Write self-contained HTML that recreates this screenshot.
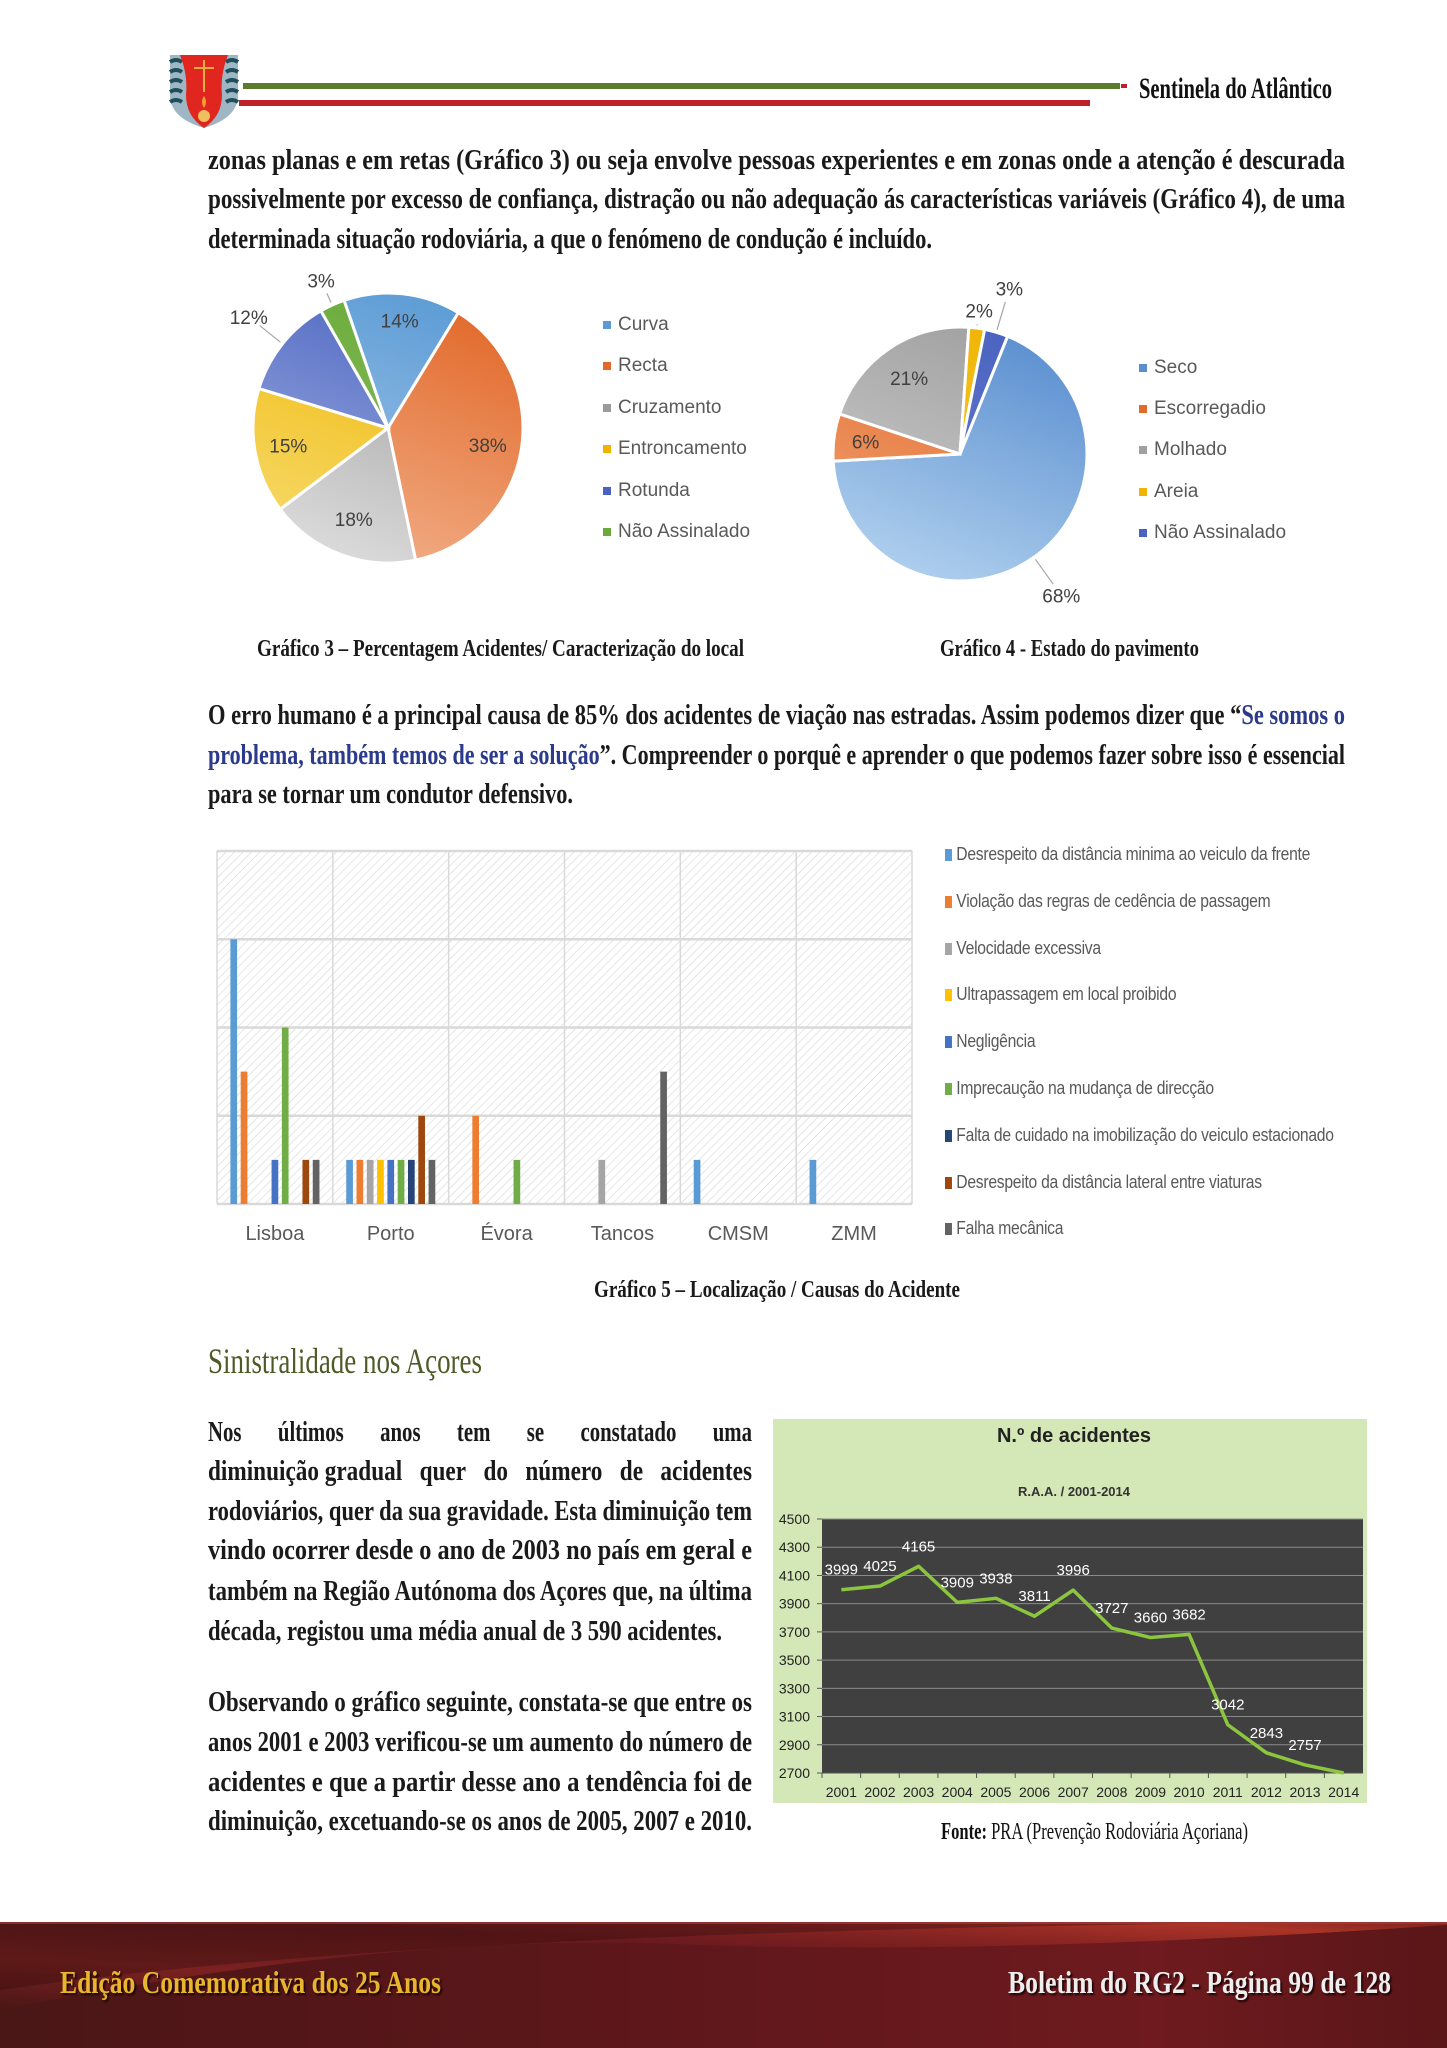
<!DOCTYPE html>
<html lang="pt">
<head>
<meta charset="utf-8">
<style>
html,body{margin:0;padding:0;background:#fff;}
#page{position:relative;width:1447px;height:2048px;overflow:hidden;background:#fff;}
.t{position:absolute;white-space:nowrap;transform-origin:0 0;display:inline-block;}
.body{font-family:"Liberation Serif",serif;font-weight:bold;font-size:28px;line-height:34px;color:#1a1a1a;}
.cap{font-family:"Liberation Serif",serif;font-weight:bold;font-size:24px;line-height:28px;color:#1a1a1a;}
.leg{position:absolute;font-family:"Liberation Sans",sans-serif;font-size:19px;color:#595959;white-space:nowrap;line-height:22px;}
.leg i{display:inline-block;width:8px;height:8px;margin-right:7px;vertical-align:1px;}
.bleg{position:absolute;font-family:"Liberation Sans",sans-serif;font-size:18px;color:#595959;white-space:nowrap;line-height:22px;transform-origin:0 0;transform:scaleX(0.87);letter-spacing:-0.3px;}
.bleg i{display:inline-block;width:8px;height:12px;margin-right:5px;vertical-align:-1px;}
svg{position:absolute;left:0;top:0;}
</style>
</head>
<body>
<div id="page">
<svg id="art" width="1447" height="2048" viewBox="0 0 1447 2048">
  <defs>
    <pattern id="hatch" width="6" height="6" patternUnits="userSpaceOnUse" patternTransform="rotate(45)">
      <rect width="6" height="6" fill="#ffffff"/>
      <line x1="0" y1="0" x2="0" y2="6" stroke="#d6d6d6" stroke-width="1.2"/>
    </pattern>
    <linearGradient id="foot" x1="0" y1="0" x2="1" y2="0">
      <stop offset="0" stop-color="#4a1616"/>
      <stop offset="0.45" stop-color="#5e171b"/>
      <stop offset="0.8" stop-color="#6e1a1e"/>
      <stop offset="1" stop-color="#5a1618"/>
    </linearGradient>
    <linearGradient id="streak" x1="0" y1="1" x2="1" y2="0">
      <stop offset="0" stop-color="#b0302a" stop-opacity="0"/>
      <stop offset="0.3" stop-color="#b0302a" stop-opacity="0.55"/>
      <stop offset="0.6" stop-color="#a02828" stop-opacity="0.2"/>
      <stop offset="0.9" stop-color="#e04a30" stop-opacity="0.7"/>
      <stop offset="1" stop-color="#e04a30" stop-opacity="0.3"/>
    </linearGradient>
  </defs>
  <g>
    <path d="M170 55 L238 55 L238 95 Q238 118 204 128 Q170 118 170 95 Z" fill="#9fb6c4"/>
    <path d="M170 62 q6 -4 12 0 M170 72 q6 -4 12 0 M170 82 q6 -4 12 0 M170 92 q6 -4 12 0 M170 102 q6 -4 12 0 M226 62 q6 -4 12 0 M226 72 q6 -4 12 0 M226 82 q6 -4 12 0 M226 92 q6 -4 12 0 M226 102 q6 -4 12 0" stroke="#1f4f5a" stroke-width="4" fill="none"/>
    <path d="M180 55 L228 55 Q220 75 222 95 Q222 116 204 128 Q186 116 186 95 Q188 75 180 55 Z" fill="#e0261f"/>
    <path d="M194 68 L214 68 M204 60 L204 92" stroke="#e8b040" stroke-width="2"/>
    <circle cx="204" cy="116" r="6" fill="#f0c060"/>
    <path d="M204 96 q-4 6 0 12 q4 -6 0 -12" fill="#f2a030"/>
  </g>
  <rect x="243" y="83" width="877" height="6" fill="#5b7a2e"/>
  <rect x="239" y="100" width="851" height="6" fill="#c0202a"/>
  <rect x="1121" y="84" width="6" height="4" fill="#c0202a"/>
  <g id="pie1"></g>
  <g id="pie2"></g>
  <g id="bars"></g>
  <g id="line"></g>
  <g>
    <rect x="0" y="1922" width="1447" height="126" fill="url(#foot)"/>
    <path d="M0 2010 Q400 1930 700 1945 Q1000 1955 1447 1925 L1447 1922 L0 1922 Z" fill="url(#streak)" opacity="0.8"/>
    <path d="M0 1990 Q450 1925 1447 1922 L0 1922 Z" fill="#2e0c0c" opacity="0.35"/>
    <rect x="0" y="1922" width="1447" height="2" fill="#b04040" opacity="0.6"/>
  </g>
</svg>

<span class="t cap" data-w="193" style="left:1139px;top:72px;font-size:30px;line-height:34px;color:#111">Sentinela do Atlântico</span>

<div>
<span class="t body" data-w="1137" style="left:208px;top:144px">zonas planas e em retas (Gráfico 3) ou seja envolve pessoas experientes e em zonas onde a atenção é descurada</span>
<span class="t body" data-w="1137" style="left:208px;top:183px">possivelmente por excesso de confiança, distração ou não adequação ás características variáveis (Gráfico 4), de uma</span>
<span class="t body" data-w="724" style="left:208px;top:223px">determinada situação rodoviária, a que o fenómeno de condução é incluído.</span>
</div>

<div id="leg1"></div>
<div id="leg2"></div>

<span class="t cap" data-w="487" style="left:257px;top:635px">Gráfico 3 – Percentagem Acidentes/ Caracterização do local</span>
<span class="t cap" data-w="259" style="left:940px;top:635px">Gráfico 4 - Estado do pavimento</span>

<div>
<span class="t body" data-w="1137" style="left:208px;top:699px">O erro humano é a principal causa de 85% dos acidentes de viação nas estradas. Assim podemos dizer que “<span style="color:#2b3a8a">Se somos o</span></span>
<span class="t body" data-w="1137" style="left:208px;top:739px"><span style="color:#2b3a8a">problema, também temos de ser a solução</span>”. Compreender o porquê e aprender o que podemos fazer sobre isso é essencial</span>
<span class="t body" data-w="365" style="left:208px;top:778px">para se tornar um condutor defensivo.</span>
</div>

<div id="bleg"></div>

<span class="t cap" data-w="366" style="left:594px;top:1276px">Gráfico 5 – Localização / Causas do Acidente</span>

<span class="t" data-w="274" style="left:208px;top:1340px;font-family:'Liberation Serif',serif;font-size:36px;line-height:42px;color:#4f5a28">Sinistralidade nos Açores</span>

<div>
<span class="t body" data-w="544" style="left:208px;top:1416px">Nos&#160;&#160;&#160;&#160;&#160;&#160; últimos&#160;&#160;&#160;&#160;&#160;&#160; anos&#160;&#160;&#160;&#160;&#160;&#160; tem&#160;&#160;&#160;&#160;&#160;&#160; se&#160;&#160;&#160;&#160;&#160;&#160; constatado&#160;&#160;&#160;&#160;&#160;&#160; uma</span>
<span class="t body" data-w="544" style="left:208px;top:1455px">diminuição gradual&#160;&#160; quer&#160;&#160; do&#160;&#160; número&#160;&#160; de&#160;&#160; acidentes</span>
<span class="t body" data-w="544" style="left:208px;top:1495px">rodoviários, quer da sua gravidade. Esta diminuição tem</span>
<span class="t body" data-w="544" style="left:208px;top:1534px">vindo ocorrer desde o ano de 2003 no país em geral e</span>
<span class="t body" data-w="544" style="left:208px;top:1575px">também na Região Autónoma dos Açores que, na última</span>
<span class="t body" data-w="514" style="left:208px;top:1615px">década, registou uma média anual de 3 590 acidentes.</span>
</div>
<div>
<span class="t body" data-w="544" style="left:208px;top:1686px">Observando o gráfico seguinte, constata-se que entre os</span>
<span class="t body" data-w="544" style="left:208px;top:1726px">anos 2001 e 2003 verificou-se um aumento do número de</span>
<span class="t body" data-w="544" style="left:208px;top:1766px">acidentes e que a partir desse ano a tendência foi de</span>
<span class="t body" data-w="544" style="left:208px;top:1805px">diminuição, excetuando-se os anos de 2005, 2007 e 2010.</span>
</div>

<span class="t" data-w="307" style="left:941px;top:1818px;font-family:'Liberation Serif',serif;font-size:24px;line-height:28px;color:#111"><b>Fonte:</b> PRA (Prevenção Rodoviária Açoriana)</span>

<span class="t" data-w="381" style="left:60px;top:1963px;font-family:'Liberation Serif',serif;font-weight:bold;font-size:32px;line-height:38px;color:#e8b52e;text-shadow:2px 2px 2px #1a0505">Edição Comemorativa dos 25 Anos</span>
<span class="t" data-w="383" style="left:1008px;top:1963px;font-family:'Liberation Serif',serif;font-weight:bold;font-size:32px;line-height:38px;color:#eeeeee;text-shadow:2px 2px 2px #1a0505">Boletim do RG2 - Página 99 de 128</span>
</div>

<script>
const pie1Labels = ['Curva','Recta','Cruzamento','Entroncamento','Rotunda','Não Assinalado'];
const pie1Values = [14,38,18,15,12,3];
const pie2Labels = ['Seco','Escorregadio','Molhado','Areia','Não Assinalado'];
const pie2Values = [68,6,21,2,3];

const barCategories = ['Lisboa','Porto','Évora','Tancos','CMSM','ZMM'];
const barSeriesNames = ['Desrespeito da distância minima ao veiculo da frente','Violação das regras de cedência de passagem','Velocidade excessiva','Ultrapassagem em local proibido','Negligência','Imprecaução na mudança de direcção','Falta de cuidado na imobilização do veiculo estacionado','Desrespeito da distância lateral entre viaturas','Falha mecânica'];
const sDistMin    = [6,1,0,0,1,1];
const sCedencia   = [3,1,2,0,0,0];
const sVelocidade = [0,1,0,1,0,0];
const sUltrapass  = [0,1,0,0,0,0];
const sNegligencia= [1,1,0,0,0,0];
const sImprecaucao= [4,1,1,0,0,0];
const sImobiliz   = [0,1,0,0,0,0];
const sDistLat    = [1,2,0,0,0,0];
const sFalha      = [1,1,0,3,0,0];
const barTicks = [0,2,4,6,8];

const years = ['2001','2002','2003','2004','2005','2006','2007','2008','2009','2010','2011','2012','2013','2014'];
const accidents = [3999,4025,4165,3909,3938,3811,3996,3727,3660,3682,3042,2843,2757,2700];
const accidentLabels = ['3999','4025','4165','3909','3938','3811','3996','3727','3660','3682','3042','2843','2757',''];
const yTicks = [2700,2900,3100,3300,3500,3700,3900,4100,4300,4500];

const NS='http://www.w3.org/2000/svg';
function mk(tag, attrs, parent){
  const e=document.createElementNS(NS,tag);
  for(const k in attrs) e.setAttribute(k,attrs[k]);
  parent.appendChild(e); return e;
}
const defs=document.querySelector('#art defs');

function pie(gid, cx, cy, r, values, names, startDeg, cols, labelR){
  const g=document.getElementById(gid);
  const total=values.reduce((a,b)=>a+b,0);
  let a=startDeg;
  values.forEach((v,i)=>{
    const gr=mk('linearGradient',{id:gid+'g'+i,gradientUnits:'userSpaceOnUse',x1:cx+r*0.4,y1:cy-r,x2:cx-r*0.4,y2:cy+r},defs);
    mk('stop',{offset:'0','stop-color':cols[i][0]},gr);
    mk('stop',{offset:'1','stop-color':cols[i][1]},gr);
    const sweep=v/total*360;
    const a0=a*Math.PI/180, a1=(a+sweep)*Math.PI/180;
    const x0=cx+r*Math.sin(a0), y0=cy-r*Math.cos(a0);
    const x1=cx+r*Math.sin(a1), y1=cy-r*Math.cos(a1);
    const p=mk('path',{d:`M${cx} ${cy} L${x0} ${y0} A${r} ${r} 0 ${sweep>180?1:0} 1 ${x1} ${y1} Z`,fill:`url(#${gid}g${i})`,stroke:'#fff','stroke-width':3},g);
    
    
    const am=(a+sweep/2)*Math.PI/180;
    const lr=r*labelR[i];
    const t=mk('text',{x:cx+lr*Math.sin(am),y:cy-lr*Math.cos(am)+7,'text-anchor':'middle','font-family':'Liberation Sans, sans-serif','font-size':19,fill:'#404040'},g);
    t.textContent=v+'%';
    
    
    if(labelR[i]>1.1){
      const e1=r*1.02, e2=lr-14;
      mk('line',{x1:cx+e1*Math.sin(am),y1:cy-e1*Math.cos(am),x2:cx+e2*Math.sin(am),y2:cy-e2*Math.cos(am),stroke:'#a6a6a6','stroke-width':1.2},g);
    }
    a+=sweep;
  });
}
const pie1Cols=[['#5b9bd5','#a9c9ea'],['#e2692a','#f2b08a'],['#9a9a9a','#dcdcdc'],['#f0b400','#f6da6a'],['#4a63c0','#a0b0e2'],['#6aaa3a','#8cc060']];
const pie2Cols=[['#5b8fd0','#b0d0ee'],['#e2692a','#f0a070'],['#a0a0a0','#cfcfcf'],['#f0b400','#f6d050'],['#4a63c0','#6c80d0']];
pie('pie1',388,428,135,pie1Values,pie1Labels,-19,pie1Cols,[0.8,0.75,0.72,0.75,1.32,1.2]);
pie('pie2',960,454,127,pie2Values,pie2Labels,22,pie2Cols,[1.37,0.75,0.72,1.14,1.36]);

function legend(id, names, cols, x, y0, dy){
  const c=document.getElementById(id);
  names.forEach((n,i)=>{
    const d=document.createElement('div');
    d.className='leg';
    
    
    d.style.left=x+'px'; d.style.top=(y0+i*dy-11)+'px';
    d.innerHTML='<i style="background:'+cols[i][0]+'"></i>'+n;
    c.appendChild(d);
  });
}
legend('leg1',pie1Labels,pie1Cols,603,325,41.4);
legend('leg2',pie2Labels,pie2Cols,1139,368,41.2);

(function(){
  const g=document.getElementById('bars');
  const X0=217,X1=912,Y0=1204,Y1=851,yMax=8;
  const series=[sDistMin,sCedencia,sVelocidade,sUltrapass,sNegligencia,sImprecaucao,sImobiliz,sDistLat,sFalha];
  const cols=['#5b9bd5','#ed7d31','#a5a5a5','#ffc000','#4472c4','#70ad47','#264478','#9e480e','#636363'];
  const cw=(X1-X0)/barCategories.length;
  const yS=v=>Y0-(v/yMax)*(Y0-Y1);
  mk('rect',{x:X0,y:Y1,width:X1-X0,height:Y0-Y1,fill:'url(#hatch)'},g);
  barTicks.forEach(t=>{const l=mk('line',{x1:X0,x2:X1,y1:yS(t),y2:yS(t),stroke:'#d9d9d9','stroke-width':2.5},g);
    });
  for(let i=0;i<=barCategories.length;i++) mk('line',{x1:X0+i*cw,x2:X0+i*cw,y1:Y1,y2:Y0,stroke:'#d9d9d9','stroke-width':1.5},g);
  const gw=cw*0.8, slot=gw/series.length, bw=slot*0.65;
  barCategories.forEach((c,ci)=>{
    const gx=X0+ci*cw+(cw-gw)/2;
    series.forEach((s,si)=>{
      if(s[ci]<=0) return;
      const r=mk('rect',{x:gx+si*slot+(slot-bw)/2,y:yS(s[ci]),width:bw,height:Y0-yS(s[ci]),fill:cols[si]},g);
      
      
    });
    const t=mk('text',{x:X0+ci*cw+cw/2,y:1240,'text-anchor':'middle','font-family':'Liberation Sans, sans-serif','font-size':20,fill:'#595959'},g);
    t.textContent=c;
    
    
  });
  const L=document.getElementById('bleg');
  barSeriesNames.forEach((n,i)=>{
    const d=document.createElement('div');
    d.className='bleg';
    
    
    d.style.left='945px'; d.style.top=(854+i*46.8-11)+'px';
    d.innerHTML='<i style="background:'+cols[i]+'"></i>'+n;
    L.appendChild(d);
  });
})();

(function(){
  const g=document.getElementById('line');
  mk('rect',{x:773,y:1419,width:594,height:384,fill:'#d3e8b6'},g);
  const X0=822,X1=1363,Y0=1773,Y1=1519,vMin=2700,vMax=4500;
  mk('rect',{x:X0,y:Y1,width:X1-X0,height:Y0-Y1,fill:'#404040'},g);
  const yS=v=>Y0-(v-vMin)/(vMax-vMin)*(Y0-Y1);
  const cw=(X1-X0)/years.length;
  const xS=i=>X0+cw*(i+0.5);
  let t=mk('text',{x:1074,y:1442,'text-anchor':'middle','font-family':'Liberation Sans, sans-serif','font-size':20,'font-weight':'bold',fill:'#222'},g);
  t.textContent='N.º de acidentes';
  
  
  t=mk('text',{x:1074,y:1496,'text-anchor':'middle','font-family':'Liberation Sans, sans-serif','font-size':13,'font-weight':'bold',fill:'#333'},g);
  t.textContent='R.A.A. / 2001-2014';
  
  
  yTicks.forEach(v=>{
    mk('line',{x1:X0,x2:X1,y1:yS(v),y2:yS(v),stroke:'#8a8a8a','stroke-width':1},g);
    mk('line',{x1:X0-5,x2:X0,y1:yS(v),y2:yS(v),stroke:'#555','stroke-width':1},g);
    const tt=mk('text',{x:810,y:yS(v)+5,'text-anchor':'end','font-family':'Liberation Sans, sans-serif','font-size':14,fill:'#222'},g);
    tt.textContent=v;
    
    
  });
  mk('line',{x1:X0,x2:X1,y1:Y0,y2:Y0,stroke:'#555','stroke-width':1},g);
  years.forEach((y,i)=>{
    mk('line',{x1:X0+cw*i,x2:X0+cw*i,y1:Y0,y2:Y0+5,stroke:'#555','stroke-width':1},g);
    const tt=mk('text',{x:xS(i),y:1797,'text-anchor':'middle','font-family':'Liberation Sans, sans-serif','font-size':14,fill:'#222'},g);
    tt.textContent=y;
    
    
  });
  const cp=mk('clipPath',{id:'plotclip'},defs);
  mk('rect',{x:X0,y:Y1,width:X1-X0,height:Y0-Y1+2},cp);
  const pl=mk('polyline',{points:accidents.map((v,i)=>xS(i)+','+yS(v)).join(' '),fill:'none',stroke:'#8cc63e','stroke-width':3.5,'stroke-linejoin':'round','clip-path':'url(#plotclip)'},g);
  
  
  accidents.forEach((v,i)=>{
    if(!accidentLabels[i]) return;
    const tt=mk('text',{x:xS(i),y:yS(v)-15,'text-anchor':'middle','font-family':'Liberation Sans, sans-serif','font-size':15,fill:'#ffffff'},g);
    tt.textContent=accidentLabels[i];
    
    
  });
})();

document.querySelectorAll('[data-w]').forEach(el=>{
  const w=+el.getAttribute('data-w');
  const n=el.getBoundingClientRect().width;
  if(n>0) el.style.transform='scaleX('+(w/n)+')';
});
</script>
</body>
</html>
